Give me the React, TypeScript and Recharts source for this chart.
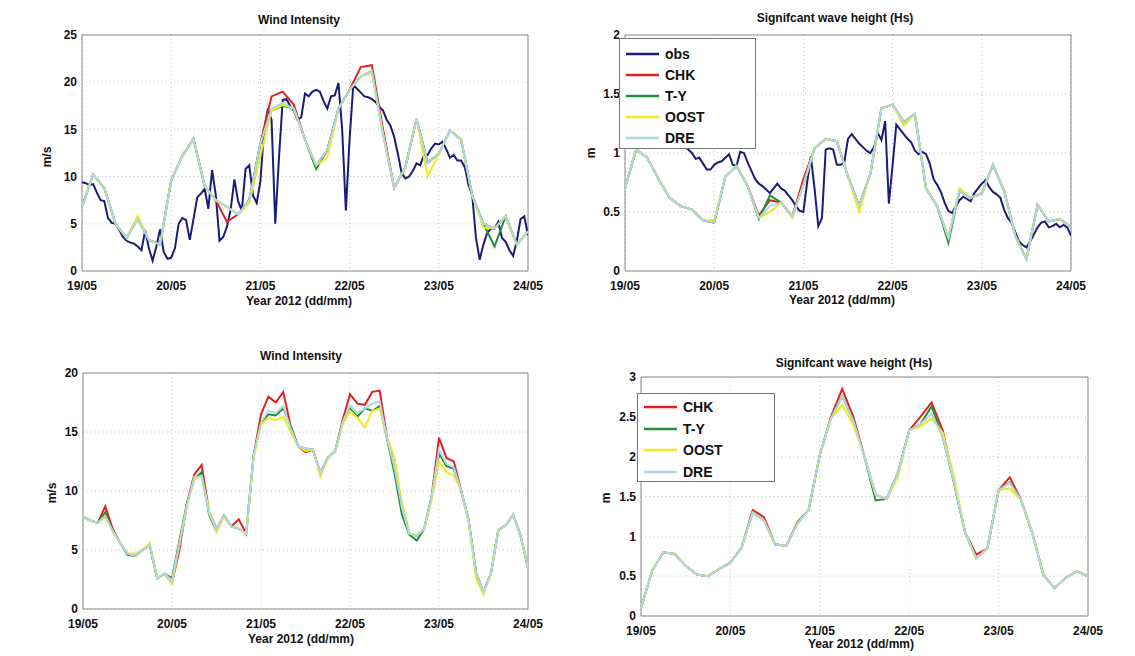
import { CartesianGrid, Legend, Line, LineChart, ReferenceArea, XAxis, YAxis } from "recharts";

const dayTicks = [0, 24, 48, 72, 96, 120];
const dayLabels = ["19/05", "20/05", "21/05", "22/05", "23/05", "24/05"];

// observations, hourly from 19/05 00h
const obsWind = [
  9.4, 9.3, 9.1, 9.2, 8.3, 7.5, 7.4, 5.6, 5.1, 5.0,
  4.4, 3.6, 3.2, 3.0, 2.9, 2.6, 2.2, 4.3, 2.4, 1.1,
  2.6, 4.4, 2.0, 1.3, 1.4, 2.4, 5.0, 5.6, 5.4, 3.3,
  5.5, 7.8, 8.2, 8.7, 6.6, 10.7, 8.0, 3.2, 3.6, 4.7,
  6.5, 9.7, 7.4, 6.4, 10.8, 11.2, 8.0, 7.2, 9.5, 15.0,
  17.2, 16.0, 5.0, 12.0, 18.1, 18.2, 17.5, 17.0, 16.0, 16.3,
  18.8, 18.5, 19.0, 19.2, 19.0, 18.0, 17.2, 18.5, 18.6, 19.9,
  15.0, 6.4, 14.0, 19.7, 19.3, 18.9, 18.5, 18.4, 18.2, 17.9,
  17.4, 17.0, 16.0, 15.4, 14.2, 12.4, 10.4, 9.8, 10.0, 10.6,
  11.4, 11.2, 12.3, 12.3, 13.0, 13.5, 13.4, 13.7, 12.9, 12.0,
  12.3, 11.7, 11.7, 11.0, 9.1, 8.0, 3.5, 1.2, 2.8, 4.0,
  4.5, 4.5, 5.2, 3.5, 3.1, 2.2, 1.6, 3.2, 5.5, 5.8,
  3.8,
];
const obsHs = [
  1.2, 1.22, 1.25, 1.24, 1.22, 1.2, 1.18, 1.17, 1.15, 1.14,
  1.12, 1.1, 1.1, 1.08, 1.07, 1.06, 1.05, 1.03, 1.0, 0.95,
  0.96, 0.91, 0.86, 0.86, 0.9, 0.92, 0.93, 0.96, 0.99, 0.9,
  0.89, 1.01, 1.0, 0.92, 0.85, 0.78, 0.74, 0.72, 0.69, 0.66,
  0.7, 0.74, 0.7, 0.68, 0.64, 0.6, 0.55, 0.51, 0.5, 0.75,
  0.97, 0.7, 0.38, 0.45, 1.03, 1.04, 1.03, 0.9, 0.9, 0.92,
  1.12, 1.16, 1.12, 1.08, 1.05, 1.02, 1.0, 1.05, 1.17, 1.11,
  1.27, 0.57, 0.9, 1.24, 1.2, 1.16, 1.12, 1.09, 1.02, 0.99,
  1.01, 0.99, 0.91, 0.78, 0.73, 0.67, 0.58, 0.51, 0.49, 0.55,
  0.6, 0.63, 0.61, 0.59, 0.66, 0.7, 0.74, 0.77, 0.71, 0.67,
  0.65, 0.62, 0.52, 0.45, 0.41, 0.33, 0.25, 0.22, 0.2, 0.25,
  0.31, 0.37, 0.41, 0.42, 0.37, 0.38, 0.4, 0.37, 0.39, 0.37,
  0.3,
];

// model runs, every 3 h - first run (top row)
const chkWindA = [6.8, 10.2, 8.8, 5.0, 3.5, 5.7, 3.3, 2.8, 9.6, 12.2, 14.0, 9.0, 7.5, 5.2, 6.0, 7.5, 13.5, 18.5, 19.0, 17.6, 13.9, 11.2, 12.8, 17.2, 19.2, 21.6, 21.8, 15.0, 8.8, 11.0, 16.1, 11.5, 12.4, 14.9, 13.9, 8.0, 5.0, 4.5, 5.8, 2.8, 4.2];
const tyWindA = [6.8, 10.2, 8.8, 5.0, 3.5, 5.5, 3.3, 2.8, 9.6, 12.2, 14.0, 9.0, 7.5, 6.8, 6.0, 7.5, 13.5, 17.0, 17.5, 17.2, 13.9, 10.8, 12.8, 17.2, 19.2, 20.6, 21.2, 14.5, 8.8, 11.0, 16.1, 11.5, 12.4, 14.9, 13.9, 8.0, 5.0, 2.6, 5.8, 2.8, 4.2];
const oostWindA = [6.8, 10.2, 8.8, 5.0, 3.5, 5.8, 3.3, 2.8, 9.6, 12.2, 14.0, 9.0, 7.5, 6.8, 6.0, 7.2, 12.2, 17.0, 17.6, 17.2, 13.9, 11.2, 12.0, 17.2, 19.2, 20.6, 21.0, 14.5, 8.8, 11.0, 16.1, 10.0, 12.4, 14.9, 13.9, 8.0, 4.6, 4.5, 5.8, 2.8, 4.2];
const dreWindA = [6.8, 10.2, 8.8, 5.0, 3.5, 5.5, 3.3, 2.8, 9.6, 12.2, 14.0, 9.0, 7.5, 6.8, 6.0, 7.5, 13.5, 17.2, 17.8, 17.2, 13.9, 11.2, 12.8, 17.2, 19.2, 20.6, 21.2, 14.5, 8.8, 11.0, 16.1, 11.5, 12.4, 14.9, 13.9, 8.0, 5.0, 4.5, 5.8, 2.8, 4.2];

const chkHsA = [0.7, 1.03, 0.96, 0.78, 0.62, 0.55, 0.52, 0.43, 0.41, 0.8, 0.89, 0.72, 0.47, 0.6, 0.58, 0.46, 0.78, 1.04, 1.12, 1.1, 0.8, 0.55, 0.82, 1.38, 1.41, 1.26, 1.33, 0.7, 0.55, 0.28, 0.68, 0.62, 0.66, 0.9, 0.68, 0.3, 0.1, 0.56, 0.42, 0.44, 0.37];
const tyHsA = [0.7, 1.03, 0.96, 0.78, 0.62, 0.55, 0.52, 0.43, 0.41, 0.8, 0.89, 0.72, 0.44, 0.64, 0.58, 0.46, 0.73, 1.04, 1.12, 1.1, 0.8, 0.55, 0.82, 1.38, 1.41, 1.26, 1.33, 0.7, 0.55, 0.24, 0.68, 0.62, 0.66, 0.9, 0.68, 0.3, 0.1, 0.56, 0.42, 0.44, 0.37];
const oostHsA = [0.7, 1.03, 0.96, 0.78, 0.62, 0.55, 0.52, 0.43, 0.43, 0.8, 0.89, 0.72, 0.45, 0.5, 0.58, 0.45, 0.73, 1.04, 1.12, 1.1, 0.8, 0.5, 0.82, 1.38, 1.41, 1.23, 1.33, 0.7, 0.55, 0.28, 0.7, 0.62, 0.66, 0.9, 0.68, 0.3, 0.1, 0.56, 0.42, 0.44, 0.37];
const dreHsA = [0.7, 1.03, 0.96, 0.78, 0.62, 0.55, 0.52, 0.43, 0.41, 0.8, 0.89, 0.72, 0.45, 0.55, 0.58, 0.46, 0.73, 1.04, 1.12, 1.1, 0.8, 0.55, 0.82, 1.38, 1.41, 1.26, 1.33, 0.7, 0.55, 0.28, 0.68, 0.62, 0.66, 0.9, 0.68, 0.3, 0.1, 0.56, 0.42, 0.44, 0.37];

// second run (bottom row); wind every 2 h, wave height every 3 h
const chkWindB = [
  7.8, 7.5, 7.3, 8.7, 6.8, 5.6, 4.7, 4.5, 5.0, 5.4,
  2.6, 3.0, 2.2, 5.0, 8.9, 11.4, 12.2, 8.2, 6.8, 7.9,
  7.0, 7.6, 6.4, 13.0, 16.5, 18.0, 17.5, 18.4, 15.5, 13.8,
  13.3, 13.5, 11.5, 12.8, 13.4, 16.0, 18.2, 17.4, 17.3, 18.4,
  18.5, 14.5, 12.0, 8.9, 6.4, 6.2, 6.8, 9.5, 14.5, 12.8,
  12.5, 10.0, 7.5, 3.1, 1.4, 3.0, 6.7, 7.1, 8.0, 6.2,
  3.5,
];
const tyWindB = [
  7.8, 7.5, 7.3, 8.2, 6.6, 5.6, 4.6, 4.5, 5.0, 5.4,
  2.6, 3.0, 2.6, 5.8, 8.9, 11.0, 11.6, 8.0, 6.6, 7.9,
  7.0, 6.8, 6.4, 13.0, 15.8, 16.5, 16.4, 17.0, 15.5, 13.8,
  13.6, 13.5, 11.5, 12.8, 13.4, 15.8, 17.0, 16.3, 17.0, 16.8,
  17.2, 14.4, 11.5, 8.0, 6.3, 5.8, 6.8, 9.5, 13.2, 12.1,
  11.9, 10.0, 7.5, 3.0, 1.4, 3.0, 6.7, 7.1, 8.0, 6.2,
  3.5,
];
const oostWindB = [
  7.8, 7.5, 7.3, 7.8, 6.6, 5.6, 4.7, 4.7, 5.0, 5.6,
  2.6, 3.0, 2.2, 5.5, 8.7, 11.0, 11.3, 8.3, 6.6, 7.8,
  7.0, 6.8, 6.4, 12.8, 15.6, 16.2, 16.0, 16.3, 15.0, 13.8,
  13.4, 13.5, 11.2, 12.8, 13.4, 15.6, 16.8, 16.2, 15.4, 16.8,
  17.0, 14.6, 12.8, 9.0, 6.4, 6.2, 6.8, 9.2, 12.5, 11.6,
  11.3, 10.0, 7.3, 2.6, 1.2, 3.0, 6.7, 7.1, 8.0, 6.2,
  3.5,
];
const dreWindB = [
  7.8, 7.5, 7.3, 7.9, 6.6, 5.6, 4.7, 4.5, 5.0, 5.4,
  2.6, 3.0, 2.4, 5.5, 8.7, 11.2, 11.2, 8.1, 6.8, 7.9,
  7.0, 6.8, 6.4, 13.0, 15.8, 16.8, 16.6, 17.2, 15.3, 13.8,
  13.6, 13.5, 11.5, 12.8, 13.4, 15.8, 17.3, 16.6, 17.0, 17.4,
  17.6, 14.4, 12.0, 8.6, 6.4, 6.2, 6.8, 9.5, 13.5, 12.3,
  12.0, 10.0, 7.5, 3.1, 1.4, 3.0, 6.7, 7.1, 8.0, 6.2,
  3.5,
];

const chkHsB = [0.1, 0.57, 0.8, 0.78, 0.63, 0.52, 0.5, 0.59, 0.67, 0.86, 1.33, 1.24, 0.9, 0.88, 1.18, 1.33, 2.02, 2.5, 2.85, 2.5, 2.0, 1.52, 1.47, 1.8, 2.33, 2.5, 2.68, 2.33, 1.68, 1.05, 0.77, 0.85, 1.58, 1.74, 1.46, 1.05, 0.52, 0.35, 0.48, 0.56, 0.5];
const tyHsB = [0.1, 0.57, 0.8, 0.78, 0.63, 0.52, 0.5, 0.59, 0.67, 0.86, 1.3, 1.2, 0.9, 0.88, 1.16, 1.33, 2.02, 2.48, 2.76, 2.45, 2.0, 1.45, 1.47, 1.8, 2.33, 2.41, 2.63, 2.25, 1.68, 1.05, 0.72, 0.85, 1.58, 1.68, 1.46, 1.05, 0.52, 0.35, 0.48, 0.56, 0.5];
const oostHsB = [0.1, 0.57, 0.8, 0.78, 0.63, 0.52, 0.5, 0.59, 0.67, 0.86, 1.3, 1.2, 0.9, 0.88, 1.16, 1.33, 2.02, 2.48, 2.65, 2.4, 2.0, 1.52, 1.47, 1.75, 2.33, 2.38, 2.48, 2.3, 1.75, 1.05, 0.72, 0.85, 1.58, 1.6, 1.46, 1.05, 0.52, 0.35, 0.48, 0.56, 0.5];
const dreHsB = [0.1, 0.57, 0.8, 0.78, 0.63, 0.52, 0.5, 0.59, 0.67, 0.86, 1.3, 1.2, 0.9, 0.88, 1.16, 1.33, 2.02, 2.48, 2.76, 2.45, 2.0, 1.52, 1.47, 1.8, 2.33, 2.41, 2.54, 2.25, 1.68, 1.05, 0.72, 0.85, 1.58, 1.67, 1.46, 1.05, 0.52, 0.35, 0.48, 0.56, 0.5];

const colors: Record<string, string> = {
  obs: "#1c1c78",
  CHK: "#e3221f",
  "T-Y": "#1f8f3a",
  OOST: "#f0ea1a",
  DRE: "#b0d8e4",
};

const FONT = '"Liberation Sans", Arial, Helvetica, sans-serif';

interface Series {
  name: string;
  values: number[];
  step: number;
}

interface LegendSpec {
  x: number;
  y: number;
  w: number;
  h: number;
  rowH: number;
  padTop: number;
}

const toPoints = (values: number[], step: number) => values.map((v, i) => ({ h: i * step, v }));

const tickStyle = { fontSize: 12, fontWeight: 700, fill: "#111", fontFamily: FONT };

function LegendBox({ names, spec }: { names: string[]; spec: LegendSpec }) {
  return (
    <div
      style={{
        width: spec.w,
        height: spec.h,
        boxSizing: "border-box",
        border: "1px solid #777",
        background: "#fff",
        paddingTop: spec.padTop,
        fontFamily: FONT,
        fontWeight: 700,
        fontSize: 14,
        color: "#111",
      }}
    >
      {names.map((n) => (
        <div key={n} style={{ display: "flex", alignItems: "center", height: spec.rowH }}>
          <svg width={33} height={4} style={{ marginLeft: 6 }}>
            <line x1={0} x2={33} y1={2} y2={2} stroke={colors[n]} strokeWidth={2.5} />
          </svg>
          <span style={{ marginLeft: 6 }}>{n}</span>
        </div>
      ))}
    </div>
  );
}

interface PanelProps {
  x0: number;
  y0: number;
  plotW: number;
  plotH: number;
  yMax: number;
  yTicks: number[];
  series: Series[];
  legend?: LegendSpec;
}

function Panel({ x0, y0, plotW, plotH, yMax, yTicks, series, legend }: PanelProps) {
  return (
    <div style={{ position: "absolute", left: x0 - 50, top: y0 - 20 }}>
      <LineChart width={plotW + 70} height={plotH + 60} margin={{ top: 20, right: 20, left: 10, bottom: 10 }}>
        <CartesianGrid stroke="#c2c2c2" strokeDasharray="1 3" />
        <XAxis
          dataKey="h"
          type="number"
          domain={[0, 120]}
          ticks={dayTicks}
          interval={0}
          height={30}
          tickFormatter={(v: number) => dayLabels[dayTicks.indexOf(v)]}
          tickLine={false}
          axisLine={false}
          tickMargin={4}
          tick={tickStyle}
          allowDataOverflow
        />
        <YAxis
          type="number"
          domain={[0, yMax]}
          ticks={yTicks}
          interval={0}
          width={40}
          tickLine={false}
          axisLine={false}
          tickSize={3}
          tickMargin={2}
          tick={tickStyle}
          allowDataOverflow
        />
        <ReferenceArea x1={0} x2={120} y1={0} y2={yMax} fill="none" stroke="#8a8a8a" ifOverflow="visible" />
        {series.map((s) => (
          <Line
            key={s.name}
            data={toPoints(s.values, s.step)}
            dataKey="v"
            name={s.name}
            type="linear"
            stroke={colors[s.name]}
            strokeWidth={2}
            dot={false}
            activeDot={false}
            isAnimationActive={false}
          />
        ))}
        {legend && (
          <Legend
            layout="vertical"
            align="center"
            verticalAlign="middle"
            wrapperStyle={{ left: legend.x, top: legend.y, width: legend.w, height: legend.h }}
            content={() => <LegendBox names={series.map((s) => s.name)} spec={legend} />}
          />
        )}
      </LineChart>
    </div>
  );
}

function Caption({ x, y, text, rotate }: { x: number; y: number; text: string; rotate?: boolean }) {
  return (
    <div
      style={{
        position: "absolute",
        left: x,
        top: y,
        transform: `translate(-50%, -50%)${rotate ? " rotate(-90deg)" : ""}`,
        whiteSpace: "nowrap",
        fontFamily: FONT,
        fontWeight: 700,
        fontSize: 12,
        lineHeight: 1,
        color: "#111",
      }}
    >
      {text}
    </div>
  );
}

export default function App() {
  const topWind: Series[] = [
    { name: "obs", values: obsWind, step: 1 },
    { name: "CHK", values: chkWindA, step: 3 },
    { name: "T-Y", values: tyWindA, step: 3 },
    { name: "OOST", values: oostWindA, step: 3 },
    { name: "DRE", values: dreWindA, step: 3 },
  ];
  const topHs: Series[] = [
    { name: "obs", values: obsHs, step: 1 },
    { name: "CHK", values: chkHsA, step: 3 },
    { name: "T-Y", values: tyHsA, step: 3 },
    { name: "OOST", values: oostHsA, step: 3 },
    { name: "DRE", values: dreHsA, step: 3 },
  ];
  const bottomWind: Series[] = [
    { name: "CHK", values: chkWindB, step: 2 },
    { name: "T-Y", values: tyWindB, step: 2 },
    { name: "OOST", values: oostWindB, step: 2 },
    { name: "DRE", values: dreWindB, step: 2 },
  ];
  const bottomHs: Series[] = [
    { name: "CHK", values: chkHsB, step: 3 },
    { name: "T-Y", values: tyHsB, step: 3 },
    { name: "OOST", values: oostHsB, step: 3 },
    { name: "DRE", values: dreHsB, step: 3 },
  ];

  return (
    <div style={{ position: "relative", width: 1135, height: 656, background: "#fff", overflow: "hidden" }}>
      <style>{"body{margin:0}"}</style>

      <Panel x0={82} y0={35} plotW={446} plotH={236} yMax={25} yTicks={[0, 5, 10, 15, 20, 25]} series={topWind} />
      <Caption x={299} y={20} text="Wind Intensity" />
      <Caption x={299} y={301} text="Year 2012 (dd/mm)" />
      <Caption x={47} y={157} text="m/s" rotate />

      <Panel
        x0={625}
        y0={35}
        plotW={446}
        plotH={236}
        yMax={2}
        yTicks={[0, 0.5, 1, 1.5, 2]}
        series={topHs}
        legend={{ x: 44, y: 23, w: 137, h: 111, rowH: 21.2, padTop: 4 }}
      />
      <Caption x={835} y={18} text="Signifcant wave height (Hs)" />
      <Caption x={842} y={300} text="Year 2012 (dd/mm)" />
      <Caption x={591} y={153} text="m" rotate />

      <Panel x0={83} y0={373} plotW={445} plotH={236} yMax={20} yTicks={[0, 5, 10, 15, 20]} series={bottomWind} />
      <Caption x={301} y={356} text="Wind Intensity" />
      <Caption x={301} y={639} text="Year 2012 (dd/mm)" />
      <Caption x={52} y={493} text="m/s" rotate />

      <Panel
        x0={641}
        y0={377}
        plotW={447}
        plotH={239}
        yMax={3}
        yTicks={[0, 0.5, 1, 1.5, 2, 2.5, 3]}
        series={bottomHs}
        legend={{ x: 46, y: 36, w: 138, h: 89, rowH: 21.7, padTop: 2 }}
      />
      <Caption x={854} y={363} text="Signifcant wave height (Hs)" />
      <Caption x={861} y={644} text="Year 2012 (dd/mm)" />
      <Caption x={606} y={498} text="m" rotate />
    </div>
  );
}
